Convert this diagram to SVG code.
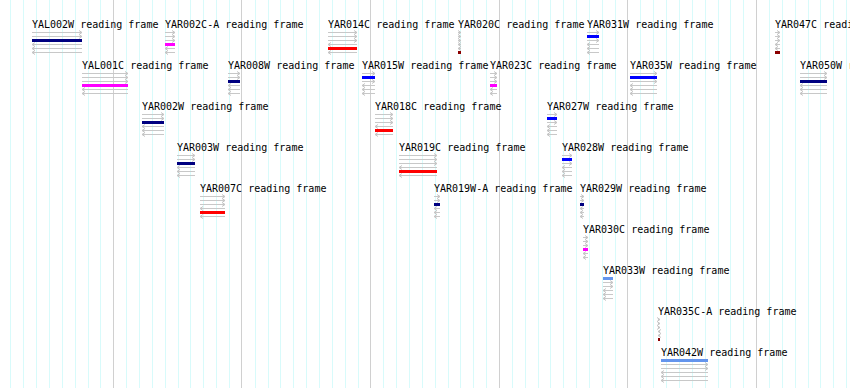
<svg xmlns="http://www.w3.org/2000/svg" width="850" height="388" viewBox="0 0 850 388">
<defs>
<marker id="ah" markerUnits="userSpaceOnUse" markerWidth="6" markerHeight="6" refX="4" refY="3" orient="auto" overflow="visible"><path d="M1 1L4 3L1 5" fill="none" stroke="#c4c4c4" stroke-width="1"/></marker>
</defs>
<style>
.t{font-family:"DejaVu Sans Mono","Liberation Mono",monospace;font-size:10px;fill:#000}
.a{stroke:#c8c8c8;stroke-width:1;marker-end:url(#ah)}
.c1{fill:#6495ed}.c2{fill:#0000ff}.c3{fill:#000080}.c4{fill:#ff00ff}.c5{fill:#ff0000}.c6{fill:#8b0000}
</style>
<rect width="850" height="388" fill="#fff"/>
<g id="grid" fill="none">
<path stroke="#d8fbfb" d="M10.5 0V388M23.5 0V388M36.5 0V388M49.5 0V388M62.5 0V388M75.5 0V388M88.5 0V388M100.5 0V388M126.5 0V388M139.5 0V388M152.5 0V388M165.5 0V388M178.5 0V388M190.5 0V388M203.5 0V388M216.5 0V388M229.5 0V388M255.5 0V388M268.5 0V388M280.5 0V388M293.5 0V388M306.5 0V388M319.5 0V388M332.5 0V388M345.5 0V388M358.5 0V388M383.5 0V388M396.5 0V388M409.5 0V388M422.5 0V388M435.5 0V388M448.5 0V388M460.5 0V388M473.5 0V388M486.5 0V388M512.5 0V388M525.5 0V388M538.5 0V388M550.5 0V388M563.5 0V388M576.5 0V388M589.5 0V388M602.5 0V388M615.5 0V388M640.5 0V388M653.5 0V388M666.5 0V388M679.5 0V388M692.5 0V388M705.5 0V388M718.5 0V388M730.5 0V388M743.5 0V388M769.5 0V388M782.5 0V388M795.5 0V388M808.5 0V388M820.5 0V388M833.5 0V388M846.5 0V388"/>
<path stroke="#d0d0d0" d="M113.5 0V388M241.5 0V388M370.5 0V388M499.5 0V388M627.5 0V388M756.5 0V388"/>
</g>
<g id="connectors"></g>

<g id="YAL002W"><text class="t" x="32" y="27.5">YAL002W reading frame</text>
<line class="a" x1="32" y1="32.5" x2="82" y2="32.5"/><line class="a" x1="32" y1="36.5" x2="82" y2="36.5"/><line class="a" x1="82" y1="44.5" x2="32" y2="44.5"/><line class="a" x1="82" y1="48.5" x2="32" y2="48.5"/><line class="a" x1="82" y1="52.5" x2="32" y2="52.5"/>
<rect class="c3" x="32" y="39" width="50" height="3"/></g>

<g id="YAR002C-A"><text class="t" x="165" y="27.5">YAR002C-A reading frame</text>
<line class="a" x1="165" y1="32.5" x2="175" y2="32.5"/><line class="a" x1="165" y1="36.5" x2="175" y2="36.5"/><line class="a" x1="165" y1="40.5" x2="175" y2="40.5"/><line class="a" x1="175" y1="48.5" x2="165" y2="48.5"/><line class="a" x1="175" y1="52.5" x2="165" y2="52.5"/>
<rect class="c4" x="165" y="43" width="10" height="3"/></g>

<g id="YAR014C"><text class="t" x="328" y="27.5">YAR014C reading frame</text>
<line class="a" x1="328" y1="32.5" x2="357" y2="32.5"/><line class="a" x1="328" y1="36.5" x2="357" y2="36.5"/><line class="a" x1="328" y1="40.5" x2="357" y2="40.5"/><line class="a" x1="357" y1="44.5" x2="328" y2="44.5"/><line class="a" x1="357" y1="52.5" x2="328" y2="52.5"/>
<rect class="c5" x="328" y="47" width="29" height="3"/></g>

<g id="YAR020C"><text class="t" x="458" y="27.5">YAR020C reading frame</text>
<line class="a" x1="458" y1="32.5" x2="461" y2="32.5"/><line class="a" x1="458" y1="36.5" x2="461" y2="36.5"/><line class="a" x1="458" y1="40.5" x2="461" y2="40.5"/><line class="a" x1="461" y1="44.5" x2="458" y2="44.5"/><line class="a" x1="461" y1="48.5" x2="458" y2="48.5"/>
<rect class="c6" x="458" y="51" width="3" height="3"/></g>

<g id="YAR031W"><text class="t" x="587" y="27.5">YAR031W reading frame</text>
<line class="a" x1="587" y1="32.5" x2="599" y2="32.5"/><line class="a" x1="587" y1="40.5" x2="599" y2="40.5"/><line class="a" x1="599" y1="44.5" x2="587" y2="44.5"/><line class="a" x1="599" y1="48.5" x2="587" y2="48.5"/><line class="a" x1="599" y1="52.5" x2="587" y2="52.5"/>
<rect class="c2" x="587" y="35" width="12" height="3"/></g>

<g id="YAR047C"><text class="t" x="775" y="27.5">YAR047C reading frame</text>
<line class="a" x1="775" y1="32.5" x2="780" y2="32.5"/><line class="a" x1="775" y1="36.5" x2="780" y2="36.5"/><line class="a" x1="775" y1="40.5" x2="780" y2="40.5"/><line class="a" x1="780" y1="44.5" x2="775" y2="44.5"/><line class="a" x1="780" y1="48.5" x2="775" y2="48.5"/>
<rect class="c6" x="775" y="51" width="5" height="3"/></g>

<g id="YAL001C"><text class="t" x="82" y="68.5">YAL001C reading frame</text>
<line class="a" x1="82" y1="73.5" x2="128" y2="73.5"/><line class="a" x1="82" y1="77.5" x2="128" y2="77.5"/><line class="a" x1="82" y1="81.5" x2="128" y2="81.5"/><line class="a" x1="128" y1="89.5" x2="82" y2="89.5"/><line class="a" x1="128" y1="93.5" x2="82" y2="93.5"/>
<rect class="c4" x="82" y="84" width="46" height="3"/></g>

<g id="YAR008W"><text class="t" x="228" y="68.5">YAR008W reading frame</text>
<line class="a" x1="228" y1="73.5" x2="240" y2="73.5"/><line class="a" x1="228" y1="77.5" x2="240" y2="77.5"/><line class="a" x1="240" y1="85.5" x2="228" y2="85.5"/><line class="a" x1="240" y1="89.5" x2="228" y2="89.5"/><line class="a" x1="240" y1="93.5" x2="228" y2="93.5"/>
<rect class="c3" x="228" y="80" width="12" height="3"/></g>

<g id="YAR015W"><text class="t" x="362" y="68.5">YAR015W reading frame</text>
<line class="a" x1="362" y1="73.5" x2="375" y2="73.5"/><line class="a" x1="362" y1="81.5" x2="375" y2="81.5"/><line class="a" x1="375" y1="85.5" x2="362" y2="85.5"/><line class="a" x1="375" y1="89.5" x2="362" y2="89.5"/><line class="a" x1="375" y1="93.5" x2="362" y2="93.5"/>
<rect class="c2" x="362" y="76" width="13" height="3"/></g>

<g id="YAR023C"><text class="t" x="490" y="68.5">YAR023C reading frame</text>
<line class="a" x1="490" y1="73.5" x2="497" y2="73.5"/><line class="a" x1="490" y1="77.5" x2="497" y2="77.5"/><line class="a" x1="490" y1="81.5" x2="497" y2="81.5"/><line class="a" x1="497" y1="89.5" x2="490" y2="89.5"/><line class="a" x1="497" y1="93.5" x2="490" y2="93.5"/>
<rect class="c4" x="490" y="84" width="7" height="3"/></g>

<g id="YAR035W"><text class="t" x="630" y="68.5">YAR035W reading frame</text>
<line class="a" x1="630" y1="73.5" x2="657" y2="73.5"/><line class="a" x1="630" y1="81.5" x2="657" y2="81.5"/><line class="a" x1="657" y1="85.5" x2="630" y2="85.5"/><line class="a" x1="657" y1="89.5" x2="630" y2="89.5"/><line class="a" x1="657" y1="93.5" x2="630" y2="93.5"/>
<rect class="c2" x="630" y="76" width="27" height="3"/></g>

<g id="YAR050W"><text class="t" x="800" y="68.5">YAR050W reading frame</text>
<line class="a" x1="800" y1="73.5" x2="827" y2="73.5"/><line class="a" x1="800" y1="77.5" x2="827" y2="77.5"/><line class="a" x1="827" y1="85.5" x2="800" y2="85.5"/><line class="a" x1="827" y1="89.5" x2="800" y2="89.5"/><line class="a" x1="827" y1="93.5" x2="800" y2="93.5"/>
<rect class="c3" x="800" y="80" width="27" height="3"/></g>

<g id="YAR002W"><text class="t" x="142" y="109.5">YAR002W reading frame</text>
<line class="a" x1="142" y1="114.5" x2="164" y2="114.5"/><line class="a" x1="142" y1="118.5" x2="164" y2="118.5"/><line class="a" x1="164" y1="126.5" x2="142" y2="126.5"/><line class="a" x1="164" y1="130.5" x2="142" y2="130.5"/><line class="a" x1="164" y1="134.5" x2="142" y2="134.5"/>
<rect class="c3" x="142" y="121" width="22" height="3"/></g>

<g id="YAR018C"><text class="t" x="375" y="109.5">YAR018C reading frame</text>
<line class="a" x1="375" y1="114.5" x2="393" y2="114.5"/><line class="a" x1="375" y1="118.5" x2="393" y2="118.5"/><line class="a" x1="375" y1="122.5" x2="393" y2="122.5"/><line class="a" x1="393" y1="126.5" x2="375" y2="126.5"/><line class="a" x1="393" y1="134.5" x2="375" y2="134.5"/>
<rect class="c5" x="375" y="129" width="18" height="3"/></g>

<g id="YAR027W"><text class="t" x="547" y="109.5">YAR027W reading frame</text>
<line class="a" x1="547" y1="114.5" x2="557" y2="114.5"/><line class="a" x1="547" y1="122.5" x2="557" y2="122.5"/><line class="a" x1="557" y1="126.5" x2="547" y2="126.5"/><line class="a" x1="557" y1="130.5" x2="547" y2="130.5"/><line class="a" x1="557" y1="134.5" x2="547" y2="134.5"/>
<rect class="c2" x="547" y="117" width="10" height="3"/></g>

<g id="YAR003W"><text class="t" x="177" y="150.5">YAR003W reading frame</text>
<line class="a" x1="177" y1="155.5" x2="195" y2="155.5"/><line class="a" x1="177" y1="159.5" x2="195" y2="159.5"/><line class="a" x1="195" y1="167.5" x2="177" y2="167.5"/><line class="a" x1="195" y1="171.5" x2="177" y2="171.5"/><line class="a" x1="195" y1="175.5" x2="177" y2="175.5"/>
<rect class="c3" x="177" y="162" width="18" height="3"/></g>

<g id="YAR019C"><text class="t" x="399" y="150.5">YAR019C reading frame</text>
<line class="a" x1="399" y1="155.5" x2="437" y2="155.5"/><line class="a" x1="399" y1="159.5" x2="437" y2="159.5"/><line class="a" x1="399" y1="163.5" x2="437" y2="163.5"/><line class="a" x1="437" y1="167.5" x2="399" y2="167.5"/><line class="a" x1="437" y1="175.5" x2="399" y2="175.5"/>
<rect class="c5" x="399" y="170" width="38" height="3"/></g>

<g id="YAR028W"><text class="t" x="562" y="150.5">YAR028W reading frame</text>
<line class="a" x1="562" y1="155.5" x2="572" y2="155.5"/><line class="a" x1="562" y1="163.5" x2="572" y2="163.5"/><line class="a" x1="572" y1="167.5" x2="562" y2="167.5"/><line class="a" x1="572" y1="171.5" x2="562" y2="171.5"/><line class="a" x1="572" y1="175.5" x2="562" y2="175.5"/>
<rect class="c2" x="562" y="158" width="10" height="3"/></g>

<g id="YAR007C"><text class="t" x="200" y="191.5">YAR007C reading frame</text>
<line class="a" x1="200" y1="196.5" x2="225" y2="196.5"/><line class="a" x1="200" y1="200.5" x2="225" y2="200.5"/><line class="a" x1="200" y1="204.5" x2="225" y2="204.5"/><line class="a" x1="225" y1="208.5" x2="200" y2="208.5"/><line class="a" x1="225" y1="216.5" x2="200" y2="216.5"/>
<rect class="c5" x="200" y="211" width="25" height="3"/></g>

<g id="YAR019W-A"><text class="t" x="434" y="191.5">YAR019W-A reading frame</text>
<line class="a" x1="434" y1="196.5" x2="440" y2="196.5"/><line class="a" x1="434" y1="200.5" x2="440" y2="200.5"/><line class="a" x1="440" y1="208.5" x2="434" y2="208.5"/><line class="a" x1="440" y1="212.5" x2="434" y2="212.5"/><line class="a" x1="440" y1="216.5" x2="434" y2="216.5"/>
<rect class="c3" x="434" y="203" width="6" height="3"/></g>

<g id="YAR029W"><text class="t" x="580" y="191.5">YAR029W reading frame</text>
<line class="a" x1="580" y1="196.5" x2="584" y2="196.5"/><line class="a" x1="580" y1="200.5" x2="584" y2="200.5"/><line class="a" x1="584" y1="208.5" x2="580" y2="208.5"/><line class="a" x1="584" y1="212.5" x2="580" y2="212.5"/><line class="a" x1="584" y1="216.5" x2="580" y2="216.5"/>
<rect class="c3" x="580" y="203" width="4" height="3"/></g>

<g id="YAR030C"><text class="t" x="583" y="232.5">YAR030C reading frame</text>
<line class="a" x1="583" y1="237.5" x2="588" y2="237.5"/><line class="a" x1="583" y1="241.5" x2="588" y2="241.5"/><line class="a" x1="583" y1="245.5" x2="588" y2="245.5"/><line class="a" x1="588" y1="253.5" x2="583" y2="253.5"/><line class="a" x1="588" y1="257.5" x2="583" y2="257.5"/>
<rect class="c4" x="583" y="248" width="5" height="3"/></g>

<g id="YAR033W"><text class="t" x="603" y="273.5">YAR033W reading frame</text>
<line class="a" x1="603" y1="282.5" x2="613" y2="282.5"/><line class="a" x1="603" y1="286.5" x2="613" y2="286.5"/><line class="a" x1="613" y1="290.5" x2="603" y2="290.5"/><line class="a" x1="613" y1="294.5" x2="603" y2="294.5"/><line class="a" x1="613" y1="298.5" x2="603" y2="298.5"/>
<rect class="c1" x="603" y="277" width="10" height="3"/></g>

<g id="YAR035C-A"><text class="t" x="658" y="314.5">YAR035C-A reading frame</text>
<line class="a" x1="658" y1="319.5" x2="660" y2="319.5"/><line class="a" x1="658" y1="323.5" x2="660" y2="323.5"/><line class="a" x1="658" y1="327.5" x2="660" y2="327.5"/><line class="a" x1="660" y1="331.5" x2="658" y2="331.5"/><line class="a" x1="660" y1="335.5" x2="658" y2="335.5"/>
<rect class="c6" x="658" y="338" width="2" height="3"/></g>

<g id="YAR042W"><text class="t" x="661" y="355.5">YAR042W reading frame</text>
<line class="a" x1="661" y1="364.5" x2="708" y2="364.5"/><line class="a" x1="661" y1="368.5" x2="708" y2="368.5"/><line class="a" x1="708" y1="372.5" x2="661" y2="372.5"/><line class="a" x1="708" y1="376.5" x2="661" y2="376.5"/><line class="a" x1="708" y1="380.5" x2="661" y2="380.5"/>
<rect class="c1" x="661" y="359" width="47" height="3"/></g>
</svg>
